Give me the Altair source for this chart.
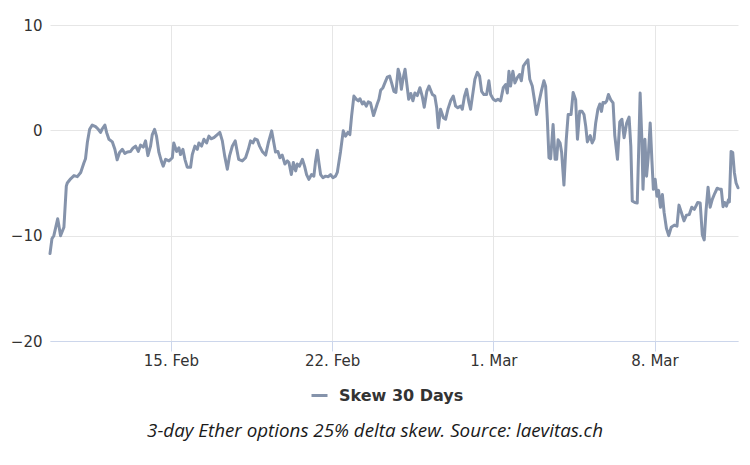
import altair as alt
import pandas as pd

# ---- data ----
series_name = "Skew 30 Days"
caption = "3-day Ether options 25% delta skew. Source: laevitas.ch"
start_time = "2021-02-09 00:00:00"   # hours below are counted from this moment

hours = [
    18, 20, 22, 26, 27, 29, 32.5, 35, 36, 39.5,
    43, 46.5, 50, 53.3, 55, 57, 59.3, 62, 65.5, 68.3,
    70.7, 72.5, 75.2, 77, 79.4, 83, 85.6, 88, 90.5, 93.4,
    96, 98.6, 102, 104.4, 107.2, 110, 112.4, 115.2, 117.6, 120,
    122.8, 124.6, 127, 129, 131.5, 134, 136, 138.5, 142, 145.5,
    147, 150, 152.3, 154, 156.5, 158.6, 161, 164.5, 166.3, 169,
    171.5, 173.2, 176, 178.4, 181.2, 183.6, 186, 188.8, 192.4, 195,
    197.6, 200, 202.8, 205.2, 208, 211, 214.6, 218.4, 221.8, 224.7,
    227, 229.5, 231.5, 234, 236.4, 239.2, 242.7, 245.5, 249, 251.3,
    253, 255.5, 257.6, 260, 262.8, 265.3, 267, 269.5, 271.6, 274,
    275.7, 278, 281, 283.3, 285.4, 287.8, 290.6, 293, 294.8, 296.6,
    298.2, 300, 302.4, 305.2, 308, 310.4, 312.8, 315.6, 317.4, 320.8,
    323.6, 326, 328.4, 330.5, 332.3, 334.7, 337.2, 339.3, 341, 343.5,
    345.2, 347.6, 349.7, 352, 355.2, 359, 360.8, 362.6, 365, 367,
    369.5, 372, 374, 376.4, 378.5, 380.8, 382.4, 384.2, 385.8, 388,
    390, 391.8, 394, 396.2, 398.3, 400.8, 403.5, 406, 408, 410.7,
    413, 416.5, 419, 421, 422.7, 425, 428, 430.3, 432.7, 435.5,
    438.3, 440.7, 443, 446, 447.7, 450, 452.2, 454.6, 456.3, 459,
    460.8, 463.3, 465.7, 467.8, 470.2, 473, 475.4, 477.2, 480, 482.4,
    484.8, 487.6, 490.4, 492.8, 494.6, 496.3, 498, 500.4, 502.5, 505,
    507.4, 509.2, 511.3, 513.6, 516, 518, 520.6, 523, 525, 527.5,
    530, 532.7, 534.5, 536.3, 538, 539.7, 542.3, 544.4, 546, 547.5,
    549.6, 551.2, 553.6, 556, 558, 561, 563.2, 565.8, 567.7, 570,
    572.4, 574.5, 576.3, 578, 581, 583, 585, 586.7, 589, 591,
    592.7, 594.3, 596.6, 598.2, 600, 602.4, 604.8, 606.6, 609.4, 611.8,
    614, 616.3, 619, 621.5, 623.3, 624.8, 627.5, 630, 631.6, 633,
    634.8, 636, 638, 639.7, 641.4, 643.5, 645.3, 646.8, 648.7, 650.5,
    652.2, 654.2, 656.2, 658, 660.4, 662.8, 665.4, 668.6, 671.4, 673.5,
    676, 678.7, 681.3, 684.2, 686.8, 689.5, 693, 695.6, 697.8, 699.8,
    701.7, 703.8, 706, 708.2, 710.7, 713.3, 716.2, 717.6, 719.4, 721,
    723, 725, 726, 727.8, 729.5, 731.2, 733, 735,
]

skew = [
    -11.7, -10.3, -10.0, -8.4, -8.9, -10.0, -9.2, -5.3, -5.0, -4.6,
    -4.3, -4.4, -4.0, -3.1, -2.7, -1.1, 0.1, 0.5, 0.35, 0.1,
    -0.2, 0.15, 0.5, -0.2, -0.85, -1.1, -1.8, -2.8, -2.1, -1.8,
    -2.2, -2.05, -2.0, -1.7, -1.5, -2.0, -1.4, -1.6, -1.0, -2.4,
    -1.5, -0.4, 0.1, -0.55, -2.1, -2.9, -3.4, -2.75, -2.9, -2.6,
    -1.2, -2.0, -1.65, -2.3, -1.8, -2.75, -3.5, -3.5, -2.3, -1.5,
    -1.8, -1.2, -1.5, -0.85, -1.2, -0.55, -0.8, -0.7, -0.4, -0.2,
    -1.0, -2.4, -3.7, -2.4, -1.5, -1.0, -2.75, -2.9, -2.6, -1.8,
    -1.0, -1.2, -0.8, -0.9, -1.5, -2.0, -2.35, -1.2, -0.05, -1.2,
    -2.05, -2.0, -2.6, -2.35, -3.2, -2.9, -3.05, -4.2, -3.05, -3.85,
    -3.2, -3.4, -2.75, -3.4, -4.2, -4.65, -4.2, -4.35, -2.9, -1.9,
    -3.05, -4.2, -4.5, -4.35, -4.4, -4.2, -4.5, -4.35, -4.0, -2.0,
    -0.05, -0.55, -0.2, -0.4, 1.35, 3.25, 2.95, 2.8, 3.0, 2.5,
    2.7, 2.3, 2.7, 2.6, 1.4, 2.5, 2.95, 3.8, 4.05, 4.5,
    5.05, 5.15, 4.5, 3.7, 3.6, 5.8, 5.3, 3.9, 4.85, 5.8,
    4.3, 2.95, 3.5, 2.8, 3.55, 3.3, 4.05, 3.2, 2.2, 3.7,
    4.2, 3.4, 3.25, 2.15, 0.25, 2.0, 1.2, 1.05, 2.0, 2.8,
    3.25, 2.3, 2.15, 2.3, 2.0, 3.25, 3.9, 2.65, 2.0, 3.7,
    4.85, 5.5, 5.15, 3.7, 3.4, 3.4, 4.7, 3.4, 2.95, 2.8,
    2.95, 2.8, 4.05, 4.35, 3.55, 5.6, 4.2, 5.6, 4.5, 5.0,
    5.3, 4.7, 6.1, 6.4, 6.7, 4.85, 4.2, 2.8, 1.5, 2.65,
    3.7, 4.7, 4.2, 1.05, -2.6, -2.7, 0.55, -2.75, -2.75, -0.9,
    -1.2, -2.1, -5.2, -0.9, 1.5, 1.5, 3.6, 2.9, -0.85, 1.8,
    1.8, 1.5, 0.4, -1.1, -0.5, -1.2, -0.8, 0.7, 2.0, 2.5,
    1.8, 2.65, 2.6, 2.8, 3.4, 2.9, 2.6, -0.5, -2.75, 0.8,
    1.05, -0.7, 0.7, 1.25, -1.5, -6.7, -6.85, -6.9, -1.5, 3.55,
    -0.85, -5.6, -0.85, -4.35, -2.6, 0.7, -2.9, -5.6, -4.65, -6.25,
    -5.7, -7.3, -6.1, -7.8, -9.3, -10.0, -9.2, -9.0, -9.1, -7.1,
    -7.8, -8.6, -8.05, -8.0, -7.3, -7.5, -6.85, -6.9, -9.9, -10.4,
    -7.6, -5.4, -7.3, -6.55, -6.0, -5.5, -5.6, -5.6, -7.25, -6.85,
    -7.2, -6.6, -6.8, -2.0, -2.1, -4.0, -5.0, -5.45,
]

y_ticks = [10, 0, -10, -20]
x_tick_days = [(2021, 2, 15), (2021, 2, 22), (2021, 3, 1), (2021, 3, 8)]

# ---- table ----
t0 = pd.Timestamp(start_time)
times = [t0 + pd.Timedelta(hours=h) for h in hours]
df = pd.DataFrame({
    "time": [t.strftime("%Y-%m-%dT%H:%M:%S") for t in times],
    "skew": skew,
    "series": series_name,
})


def dt(ts):
    return alt.DateTime(year=ts.year, month=ts.month, date=ts.day,
                        hours=ts.hour, minutes=ts.minute)


x_values = [alt.DateTime(year=y, month=m, date=d) for (y, m, d) in x_tick_days]

LINE_COLOR = "#8593ab"
GRID = "#e6e6e6"
AXIS_BLUE = "#ccd6eb"
LABEL_FONT = "DejaVu Sans"

line = alt.Chart(df).mark_line(
    strokeWidth=3, strokeJoin="round", strokeCap="round"
).encode(
    x=alt.X(
        "time:T",
        scale=alt.Scale(domain=[dt(times[0]), dt(times[-1])], nice=False),
        axis=alt.Axis(
            values=x_values, format="%-d. %b", title=None,
            grid=True, gridColor=GRID, gridWidth=1,
            domainColor=AXIS_BLUE, domainWidth=1,
            tickColor=AXIS_BLUE, tickSize=10, tickWidth=1,
            labelPadding=2, labelFontSize=15, labelColor="#333333",
            labelFont=LABEL_FONT, labelBaseline="top",
        ),
    ),
    y=alt.Y(
        "skew:Q",
        scale=alt.Scale(domain=[-20, 10], nice=False, zero=False),
        axis=alt.Axis(
            values=y_ticks, title=None, domain=False, ticks=False,
            grid=True, gridColor=GRID, gridWidth=1,
            labelPadding=8, labelFontSize=15, labelColor="#333333",
            labelFont=LABEL_FONT,
        ),
    ),
    color=alt.Color(
        "series:N",
        scale=alt.Scale(range=[LINE_COLOR]),
        legend=alt.Legend(
            orient="none", legendX=260, legendY=361, title=None,
            symbolType="stroke", symbolSize=256, symbolStrokeWidth=3,
            labelFontSize=16, labelFontWeight="bold", labelColor="#333333",
            labelFont=LABEL_FONT, labelOffset=10,
        ),
    ),
)

cap = alt.Chart(pd.DataFrame({"text": [caption]})).mark_text(
    font="Open Sans", fontStyle="italic", fontSize=18.8, color="#1a1a1a",
    align="center", baseline="middle",
).encode(
    x=alt.value(325), y=alt.value(406), text="text:N"
)

chart = alt.layer(line, cap).properties(
    width=688, height=316,
    autosize=alt.AutoSizeParams(type="none"),
    padding={"left": 50, "top": 25, "right": 12, "bottom": 124},
    background="white",
).configure_view(stroke=None)

chart.save("out.html", embed_options={"renderer": "svg", "actions": False})
